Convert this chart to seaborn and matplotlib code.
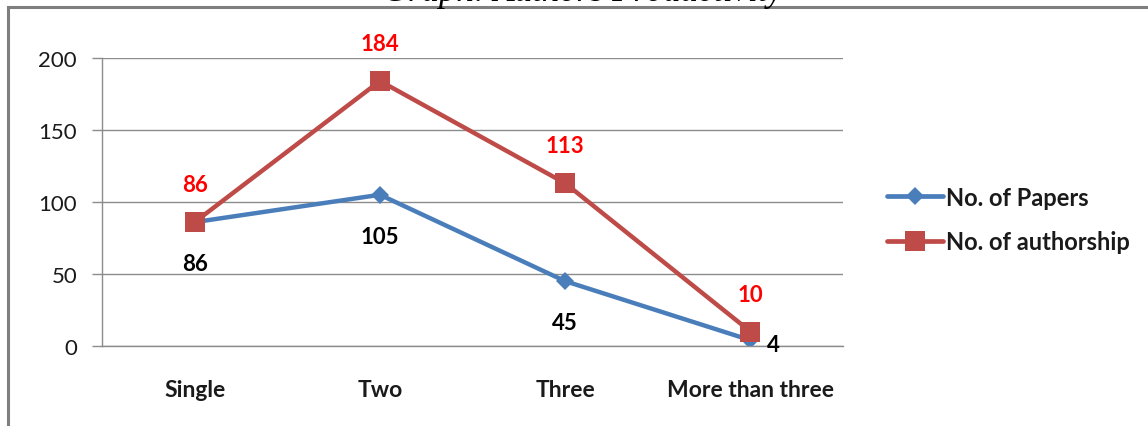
import matplotlib
matplotlib.use("Agg")
import matplotlib.pyplot as plt
import seaborn as sns
import pandas as pd
from matplotlib.patches import Rectangle

categories = ["Single", "Two", "Three", "More than three"]
papers = [86, 105, 45, 4]
authorship = [86, 184, 113, 10]
series_names = ["No. of Papers", "No. of authorship"]
y_ticks = [0, 50, 100, 150, 200]

df = pd.DataFrame({
    "Authors": categories * 2,
    "Count": papers + authorship,
    "Series": [series_names[0]] * len(categories) + [series_names[1]] * len(categories),
})

sns.set_theme(style="white")
plt.rcParams["font.family"] = ["Lato", "DejaVu Sans"]

blue = "#4A7EBB"
red = "#BE4B48"
grid_c = "#8C8C8C"
txt_c = "#1a1a1a"

fig = plt.figure(figsize=(11.48, 4.27), dpi=100)
ax = fig.add_axes([0.0889, 0.1874, 0.6455, 0.6745])

sns.lineplot(
    data=df, x="Authors", y="Count", hue="Series", style="Series",
    palette={series_names[0]: blue, series_names[1]: red},
    markers={series_names[0]: "D", series_names[1]: "s"},
    dashes=False, sort=False, linewidth=3.2, ax=ax, legend=True,
)
for line in ax.lines:
    if line.get_marker() == "s":
        line.set_markersize(14)
    elif line.get_marker() == "D":
        line.set_markersize(9)
    line.set_markeredgewidth(0)

ax.set_xlim(-0.5, len(categories) - 0.5)
ax.set_ylim(0, 200)
ax.set_yticks(y_ticks)
ax.set_xlabel("")
ax.set_ylabel("")
ax.yaxis.grid(True, color=grid_c, linewidth=1.0)
ax.set_axisbelow(True)
for s in ["top", "right"]:
    ax.spines[s].set_visible(False)
for s in ["left", "bottom"]:
    ax.spines[s].set_color(grid_c)
    ax.spines[s].set_linewidth(1.0)

ax.set_xticks(range(len(categories)))
ax.set_xticklabels(categories, fontweight="bold", fontsize=16.5, color=txt_c)
ax.tick_params(axis="x", length=0, pad=24)
ax.tick_params(axis="y", length=7, color=grid_c, width=1, labelsize=16, labelcolor=txt_c, pad=11)
ax.yaxis.set_ticks_position("left")
# minor ticks on the x axis mark the category boundaries
ax.set_xticks([i + 0.5 for i in range(len(categories))], minor=True)
ax.tick_params(axis="x", which="minor", length=7, color=grid_c, width=1, direction="out")

# value labels
for i, v in enumerate(papers):
    if i == len(papers) - 1:
        ax.annotate(str(v), (i, v), xytext=(12, -3), textcoords="offset points",
                    ha="left", va="center", fontsize=16, fontweight="bold", color="black")
    else:
        ax.annotate(str(v), (i, v), xytext=(0, -30), textcoords="offset points",
                    ha="center", va="center", fontsize=16, fontweight="bold", color="black")
for i, v in enumerate(authorship):
    ax.annotate(str(v), (i, v), xytext=(0, 27), textcoords="offset points",
                ha="center", va="center", fontsize=16, fontweight="bold", color="#FF0000")

leg = ax.legend(loc="center left", bbox_to_anchor=(1.03, 0.44), frameon=False,
                fontsize=17, handlelength=2.4, handletextpad=0.1, labelspacing=0.9)
for t in leg.get_texts():
    t.set_fontweight("bold")
    t.set_color(txt_c)
for h in leg.legend_handles:
    h.set_linewidth(3.4)

# outer chart frame
fig.patches.append(Rectangle((8 / 1148, -0.05), 1.2, (427 - 8) / 427 + 0.05,
                             transform=fig.transFigure, fill=False,
                             edgecolor="#7F7F7F", linewidth=2.2))
fig.text(0.508, 1 - 1 / 427, "Graph: Authors Productivity", ha="center", va="baseline",
         fontsize=25, style="italic", family=["Liberation Serif", "DejaVu Serif"], color="black")

fig.savefig("out.png", dpi=100)
